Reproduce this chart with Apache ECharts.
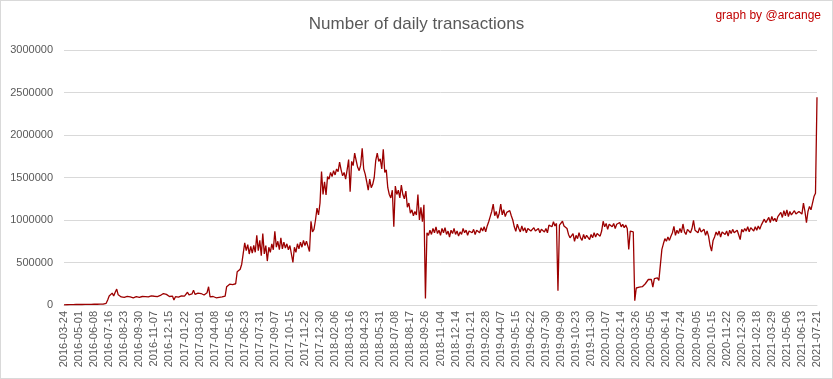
<!DOCTYPE html>
<html>
<head>
<meta charset="utf-8">
<script src="https://cdn.jsdelivr.net/npm/echarts@6/dist/echarts.min.js"></script>
<style>
html,body{margin:0;padding:0;background:#fff;}
#c{width:833px;height:379px;box-sizing:border-box;border:1px solid #d9d9d9;}
</style>
</head>
<body>
<div id="c"></div>
<script>
// Tick labels shown on the x axis (one every 10 sampled points)
const tickLabels = ["2016-03-24","2016-05-01","2016-06-08","2016-07-16","2016-08-23","2016-09-30","2016-11-07","2016-12-15",
"2017-01-22","2017-03-01","2017-04-08","2017-05-16","2017-06-23","2017-07-31","2017-09-07","2017-10-15","2017-11-22","2017-12-30",
"2018-02-06","2018-03-16","2018-04-23","2018-05-31","2018-07-08","2018-08-17","2018-09-26","2018-11-04","2018-12-14",
"2019-01-21","2019-02-28","2019-04-07","2019-05-15","2019-06-22","2019-07-30","2019-09-09","2019-10-23","2019-11-30",
"2020-01-07","2020-02-14","2020-03-26","2020-05-05","2020-06-14","2020-07-24","2020-09-05","2020-10-15","2020-11-22","2020-12-30",
"2021-02-18","2021-03-29","2021-05-06","2021-06-13","2021-07-21"];

// Daily transactions, sampled (thousands of transactions)
const txThousands = [
2,3,3,4,4,5,5,5,6,4,6,6,6,7,7,7,8,8,8,8,9,9,9,10,10,10,11,
12,20,60,105,110,140,105,150,187,120,
100,95,105,90,98,102,88,95,100,85,92,98,104,90,96,100,93,
98,105,95,100,108,97,103,110,99,105,112,
120,135,118,125,110,
100,95,105,60,98,102,92,100,108,96,105,115,
150,120,110,130,175,125,115,140,120,135,150,118,128,145,215,
95,88,100,92,85,98,90,102,95,100,105,
215,230,245,225,240,235,250,
390,370,420,480,460,730,
640,710,600,690,610,700,620,820,640,760,580,840,600,700,517,680,620,720,650,867,
680,750,650,790,660,740,670,720,650,700,600,500,680,620,720,660,740,680,760,700,750,690,630,
985,860,890,1000,1140,1060,1200,1570,1300,
1450,1295,1510,1480,1560,1510,1580,1530,
1600,1570,1680,1590,1520,1560,1480,1590,1710,1334,
1690,1640,1786,1700,1620,1580,1645,1844,1600,1540,
1450,1350,1480,1380,1420,1500,1700,1786,1690,1720,1600,
1833,1560,1590,1380,1300,1260,1350,920,
1400,1300,1350,1260,1410,1300,1250,1340,
1150,1200,1080,1120,1050,1100,1060,1300,
1000,1150,980,1180,
78,850,
820,880,830,900,850,920,840,880,820,900,850,910,830,870,800,880,840,900,830,870,810,860,830,900,850,880,820,870,850,
850,890,830,880,900,850,910,870,920,860,930,
980,1040,1100,1187,
1050,1100,1020,1080,1187,1060,1120,1040,1090,1070,1110,1050,
1000,920,867,950,
900,860,930,870,910,850,900,920,870,850,910,870,880,900,850,890,910,860,900,850,940,960,920,980,930,960,
167,
940,960,985,930,950,900,
830,790,770,840,750,820,780,850,790,760,830,780,820,840,770,830,790,850,800,840,860,810,870,
985,
920,960,890,950,970,920,960,900,950,930,970,920,950,910,940,900,
654,
870,887,860,
50,
200,190,210,220,215,230,250,270,300,
290,300,210,310,300,320,290,305,
654,
720,780,750,800,760,809,
850,926,820,880,840,900,850,953,860,830,890,910,850,900,996,880,900,850,910,860,840,890,820,870,810,
700,634,760,
800,860,820,870,800,860,880,830,870,810,880,840,890,850,830,880,870,
770,
890,860,900,870,920,860,910,926,870,920,880,930,890,940,
960,1010,970,990,1030,970,1042,990,1020,980,1040,
1060,1090,1030,1110,1050,1120,1040,1100,1060,1080,1110,1070,1050,1100,1120,1070,
1199,1100,970,
1100,1160,1120,1140,
1276,1315,2443
];

const yTicks = [0, 500000, 1000000, 1500000, 2000000, 2500000, 3000000];

const values = txThousands.map(v => v * 1000);
const categories = values.map((_, i) => {
  const t = Math.floor(i / 10);
  return i % 10 === 0 ? (tickLabels[t] || ('x' + i)) : (tickLabels[t] + '+' + (i % 10));
});

const chart = echarts.init(document.getElementById('c'), null, {renderer: 'canvas'});
chart.setOption({
  animation: false,
  backgroundColor: '#ffffff',
  title: [{
    text: 'Number of daily transactions',
    left: 'center',
    top: 10,
    textStyle: {fontFamily: 'Liberation Sans, Arial, sans-serif', fontSize: 17, fontWeight: 'normal', color: '#595959'}
  }, {
    text: 'graph by @arcange',
    right: 6,
    top: 4,
    textStyle: {fontFamily: 'Liberation Sans, Arial, sans-serif', fontSize: 12, fontWeight: 'normal', color: '#c00000'}
  }],
  grid: {left: 63, right: 15, top: 49, bottom: 73},
  xAxis: {
    type: 'category',
    data: categories,
    boundaryGap: false,
    axisLine: {lineStyle: {color: '#d9d9d9'}},
    axisTick: {show: false},
    axisLabel: {
      interval: 9,
      rotate: 90,
      margin: 6,
      fontSize: 11,
      color: '#595959',
      fontFamily: 'Liberation Sans, Arial, sans-serif'
    },
    splitLine: {show: false}
  },
  yAxis: {
    type: 'value',
    min: yTicks[0],
    max: yTicks[yTicks.length - 1],
    interval: yTicks[1] - yTicks[0],
    axisLine: {show: false},
    axisTick: {show: false},
    axisLabel: {
      fontSize: 11,
      color: '#595959',
      margin: 11,
      fontFamily: 'Liberation Sans, Arial, sans-serif',
      formatter: v => String(v)
    },
    splitLine: {lineStyle: {color: '#d9d9d9', width: 1}}
  },
  series: [{
    type: 'line',
    data: values,
    showSymbol: false,
    symbol: 'none',
    lineStyle: {color: '#9c0000', width: 1.3},
    itemStyle: {color: '#9c0000'}
  }]
});
</script>
</body>
</html>
